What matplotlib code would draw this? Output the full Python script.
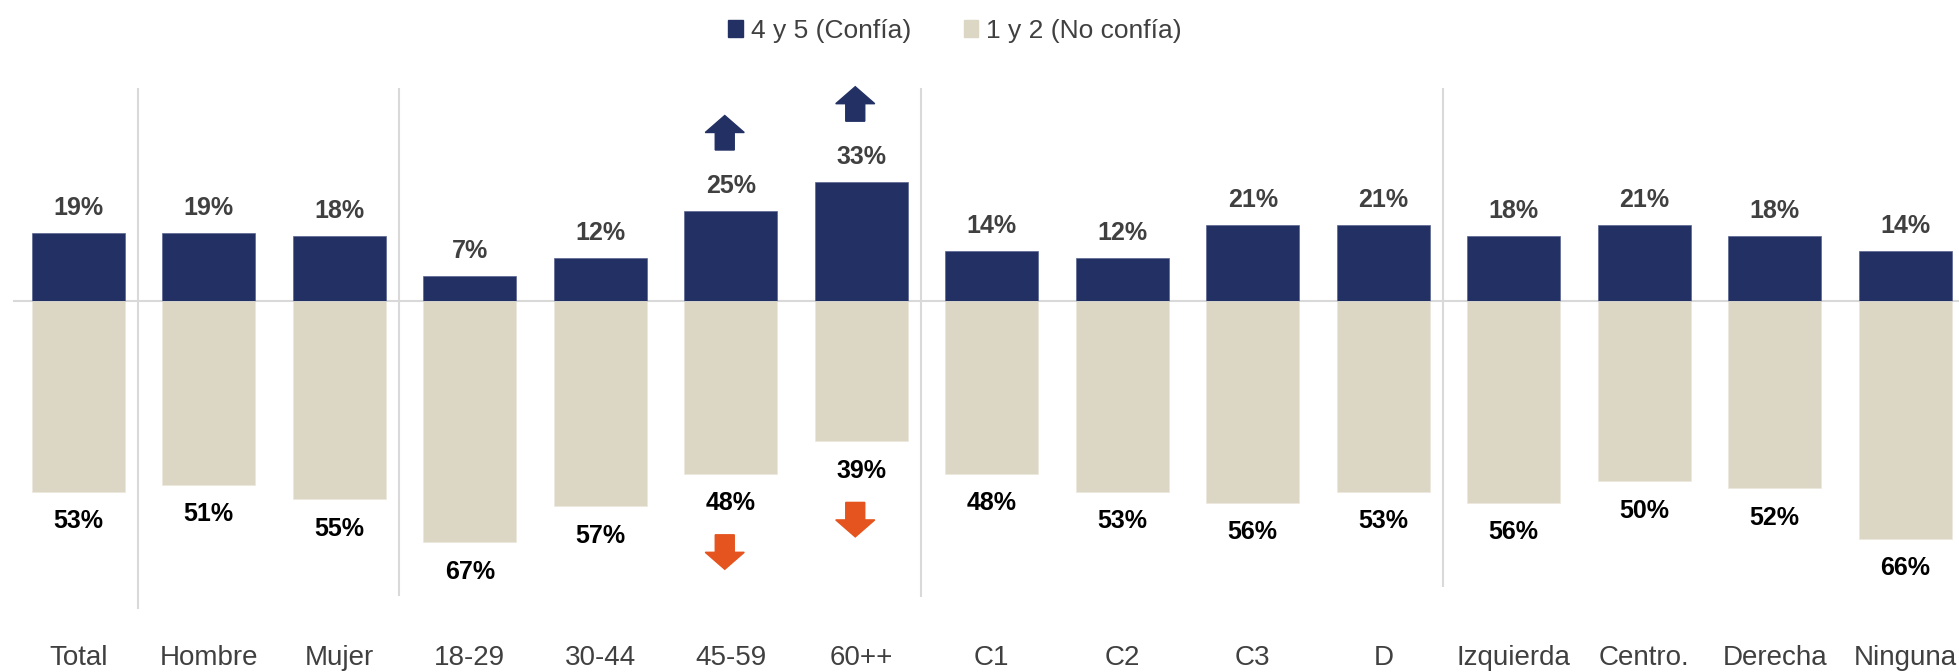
import matplotlib.pyplot as plt
from matplotlib.patches import Polygon, Patch
from matplotlib.transforms import ScaledTranslation

plt.rcParams['font.family'] = ['Liberation Sans', 'DejaVu Sans']

categories = ["Total", "Hombre", "Mujer", "18-29", "30-44", "45-59", "60++",
              "C1", "C2", "C3", "D", "Izquierda", "Centro.", "Derecha", "Ninguna"]
confia = [19, 19, 18, 7, 12, 25, 33, 14, 12, 21, 21, 18, 21, 18, 14]
no_confia = [53, 51, 55, 67, 57, 48, 39, 48, 53, 56, 53, 56, 50, 52, 66]
# groups end after these positions (gender, age, SES, ideology)
group_ends = [0, 2, 6, 10]
sep_bottoms = [-85.6, -81.9, -82.2, -79.4]
# arrows marking significant differences
up_arrows = [5, 6]
down_arrows = [5, 6]

navy = "#223064"
beige = "#DCD6C4"
orange = "#E5531E"
grey_txt = "#404040"

W, H = 1959, 672
fig = plt.figure(figsize=(W / 100, H / 100), dpi=100)
# axes in pixel terms: left 13, right edge, top 80, bottom 620
ax = fig.add_axes([13 / W, 1 - 620 / H, 1 - 13 / W, (620 - 80) / H])

x = list(range(len(categories)))
neg = [-v for v in no_confia]
ax.bar(x, confia, width=0.713, color=navy, edgecolor="#5a6690", lw=0.5)
ax.bar(x, neg, width=0.713, color=beige, edgecolor="#ece8dc", lw=0.5)

ax.set_xlim(-0.5, -0.5 + (W - 13) / 130.5)
ax.set_ylim(-(620 - 301) / 3.6, (301 - 80) / 3.6)
ax.axhline(0, color="#D9D9D9", lw=1.5, zorder=0)

for g, yb in zip(group_ends, sep_bottoms):
    ax.vlines(g + 0.46, yb, 59.2, color="#D9D9D9", lw=1.5, zorder=0)

for i in x:
    ax.annotate(f"{confia[i]}%", (i, confia[i]), xytext=(0, 13), textcoords="offset points",
                ha="center", va="baseline", fontsize=18, fontweight="bold", color=grey_txt)
    ax.annotate(f"{no_confia[i]}%", (i, neg[i]), xytext=(0, -26.3), textcoords="offset points",
                ha="center", va="baseline", fontsize=18, fontweight="bold", color="black")


def arrow(xc, yv, up, color):
    # block arrow, sizes in inches (100 px per inch)
    hw, sw, hh, total = 0.195, 0.095, 0.17, 0.345
    if up:
        base = 0.61
        pts = [(-sw, base), (sw, base), (sw, base + total - hh), (hw, base + total - hh),
               (0, base + total), (-hw, base + total - hh), (-sw, base + total - hh)]
    else:
        base = -0.61
        pts = [(-sw, base), (sw, base), (sw, base - total + hh), (hw, base - total + hh),
               (0, base - total), (-hw, base - total + hh), (-sw, base - total + hh)]
    pts = [(px - 0.06, py) for px, py in pts]
    tr = fig.dpi_scale_trans + ScaledTranslation(xc, yv, ax.transData)
    ax.add_patch(Polygon(pts, closed=True, transform=tr, color=color, clip_on=False))


for i in up_arrows:
    arrow(i, confia[i], True, navy)
for i in down_arrows:
    arrow(i, neg[i], False, orange)

ax.set_xticks(x)
ax.set_xticklabels(categories, fontsize=20, color=grey_txt)
ax.tick_params(axis="x", length=0, pad=18)
ax.set_yticks([])
for s in ax.spines.values():
    s.set_visible(False)

fig.legend(handles=[Patch(color=navy), Patch(color=beige)],
           labels=["4 y 5 (Confía)", "1 y 2 (No confía)"],
           loc="center", bbox_to_anchor=(955 / W, 1 - 31 / H), ncol=2, frameon=False,
           fontsize=19, labelcolor=grey_txt, handlelength=0.55, handleheight=0.6,
           handletextpad=0.3, columnspacing=2.0)

fig.savefig("out.png", dpi=100)
